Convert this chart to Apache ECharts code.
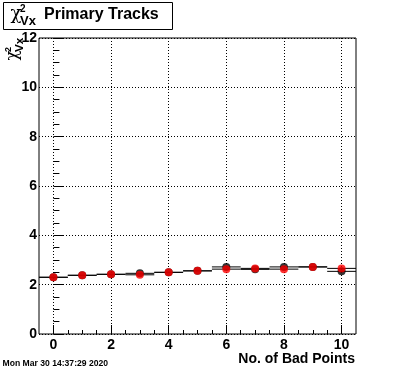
<!DOCTYPE html>
<html>
<head>
<meta charset="utf-8">
<script src="https://cdn.jsdelivr.net/npm/echarts@6/dist/echarts.min.js"></script>
<style>html,body{margin:0;padding:0;background:#fff;}#c{width:396px;height:372px;}</style>
</head>
<body>
<div id="c"></div>
<script>
var xValues = [0, 1, 2, 3, 4, 5, 6, 7, 8, 9, 10];
var blackValues = [2.30, 2.38, 2.42, 2.46, 2.50, 2.56, 2.72, 2.62, 2.72, 2.72, 2.54];
var redValues = [2.30, 2.38, 2.42, 2.40, 2.50, 2.56, 2.63, 2.66, 2.63, 2.72, 2.66];
var xMajorTicks = [0, 2, 4, 6, 8, 10];
var xMinorTicks = [0, 0.5, 1, 1.5, 2, 2.5, 3, 3.5, 4, 4.5, 5, 5.5, 6, 6.5, 7, 7.5, 8, 8.5, 9, 9.5, 10];
var titleText = 'Primary Tracks';
var xTitle = 'No. of Bad Points';
var dateText = 'Mon Mar 30 14:37:29 2020';

var blackPts = xValues.map(function (x, i) { return [x, blackValues[i]]; });
var redPts = xValues.map(function (x, i) { return [x, redValues[i]]; });

var FONT = '"Liberation Sans", Arial, sans-serif';
var dotted = { color: '#000', width: 1, type: [1, 2] };

function chiLabel(x, y, rot, s) {
  return {
    type: 'group', x: x, y: y, rotation: rot, scaleX: s, scaleY: s,
    children: [
      { type: 'text', x: 0.5, y: 5.2, style: { text: 'χ', font: '18px "DejaVu Serif", "Liberation Serif", serif', fill: '#000', textVerticalAlign: 'top' } },
      { type: 'text', x: 10, y: 4.3, style: { text: '2', font: 'bold 10px ' + FONT, fill: '#000', textVerticalAlign: 'top' } },
      { type: 'text', x: 10, y: 15.1, style: { text: 'Vx', font: 'bold 13px ' + FONT, fill: '#000', textVerticalAlign: 'top' } }
    ]
  };
}

function hbar(params, api) {
  var x = api.value(0), y = api.value(1);
  var p1 = api.coord([x - 0.5, y]);
  var p2 = api.coord([x + 0.5, y]);
  return {
    type: 'line',
    shape: { x1: p1[0], y1: p1[1], x2: p2[0], y2: p2[1] },
    style: { stroke: '#000', lineWidth: 1 }
  };
}

var chart = echarts.init(document.getElementById('c'), null, { renderer: 'canvas' });
chart.setOption({
  animation: false,
  backgroundColor: '#fff',
  grid: { left: 39, right: 40, top: 38, bottom: 38, show: true, borderColor: '#000', borderWidth: 1, backgroundColor: 'transparent' },
  xAxis: [
    {
      type: 'value', min: -0.5, max: 10.5, position: 'bottom',
      axisLine: { show: false },
      axisTick: { show: true, inside: true, length: 4, lineStyle: { color: '#000' }, customValues: xMinorTicks },
      axisLabel: { show: false },
      splitLine: { show: false }
    },
    {
      type: 'value', min: -0.5, max: 10.5, position: 'bottom',
      axisLine: { show: false },
      axisTick: { show: true, inside: true, length: 9, lineStyle: { color: '#000' }, customValues: xMajorTicks },
      axisLabel: { show: true, customValues: xMajorTicks, margin: 4, color: '#000', fontFamily: FONT, fontWeight: 'bold', fontSize: 14 },
      splitLine: { show: true, lineStyle: dotted }
    }
  ],
  yAxis: {
    type: 'value', min: 0, max: 12, interval: 2,
    axisLine: { show: false },
    axisTick: { show: true, inside: true, length: 10, lineStyle: { color: '#000' } },
    minorTick: { show: true, splitNumber: 4, length: 6, lineStyle: { color: '#000' } },
    axisLabel: { margin: 2, color: '#000', fontFamily: FONT, fontWeight: 'bold', fontSize: 14 },
    splitLine: { show: true, lineStyle: dotted }
  },
  series: [
    { type: 'custom', xAxisIndex: 0, renderItem: hbar, data: blackPts, z: 3 },
    { type: 'custom', xAxisIndex: 0, renderItem: hbar, data: redPts, z: 3 },
    { type: 'scatter', xAxisIndex: 0, data: blackPts, symbol: 'circle', symbolSize: 8, itemStyle: { color: '#000' }, z: 4 },
    { type: 'scatter', xAxisIndex: 0, data: redPts, symbol: 'circle', symbolSize: 8, itemStyle: { color: '#ff0000' }, z: 5 }
  ],
  graphic: [
    { type: 'rect', shape: { x: 3.5, y: 2.5, width: 169, height: 27 }, style: { fill: '#fff', stroke: '#000', lineWidth: 1 } },
    chiLabel(10, 0, 0, 1),
    { type: 'text', x: 44, y: 6.5, style: { text: titleText, font: 'bold 16px ' + FONT, fill: '#000', textVerticalAlign: 'top' } },
    chiLabel(0, 61, Math.PI / 2, 0.9),
    { type: 'text', x: 355, y: 352, style: { text: xTitle, font: 'bold 14px ' + FONT, fill: '#000', textAlign: 'right', textVerticalAlign: 'top' } },
    { type: 'text', x: 2.5, y: 359, style: { text: dateText, font: 'bold 8.6px ' + FONT, fill: '#000', textVerticalAlign: 'top' } }
  ]
});
</script>
</body>
</html>
